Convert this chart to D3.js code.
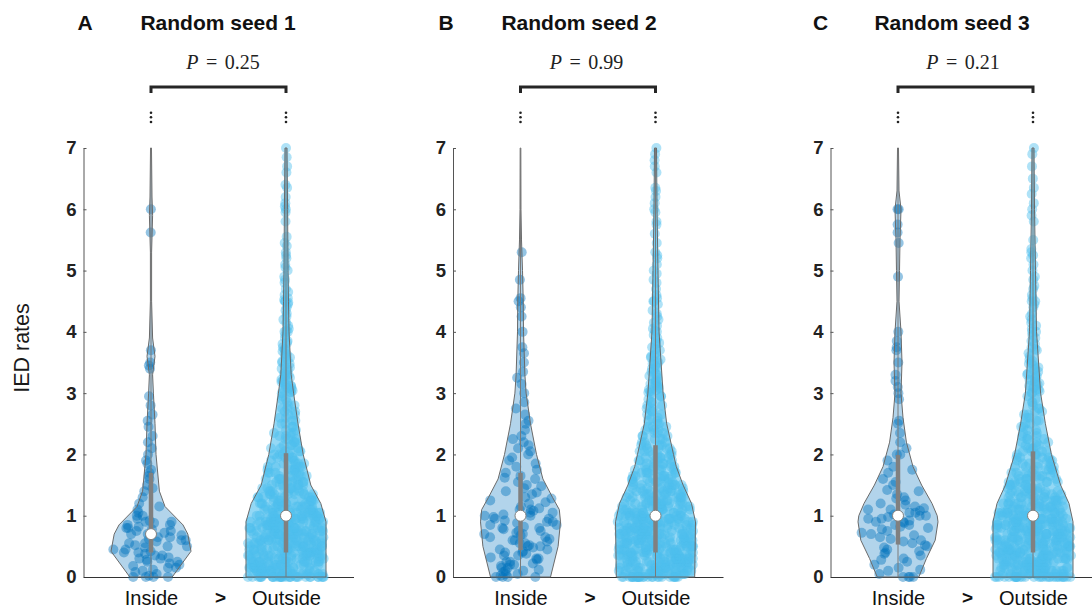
<!DOCTYPE html>
<html><head><meta charset="utf-8">
<script src="https://cdn.jsdelivr.net/npm/d3@7"></script>
<style>body{margin:0;background:#fff}svg{display:block}</style>
</head><body>
<svg id="chart" width="1092" height="611"></svg>
<script>
// ---------------- data ----------------
const panelLetters = ["A", "B", "C"];
const panelTitles = ["Random seed 1", "Random seed 2", "Random seed 3"];
const pValues = ["0.25", "0.99", "0.21"];
const groups = ["Inside", "Outside"];
const yTicks = [0, 1, 2, 3, 4, 5, 6, 7];
const yLabel = "IED rates";

// box stats [q1, median, q3]
const boxInsideA = [0.40, 0.70, 1.70];
const boxOutsideA = [0.40, 1.00, 2.02];
const boxInsideB = [0.44, 1.00, 1.70];
const boxOutsideB = [0.40, 1.00, 2.15];
const boxInsideC = [0.53, 1.00, 1.99];
const boxOutsideC = [0.40, 1.00, 2.05];

// violin outlines: value grid and relative density (1 = widest)
const violinGridInsideA = [0, 0.42, 0.7, 0.85, 1.15, 1.4, 2.0, 2.5, 3.0, 3.3, 3.6, 3.9, 4.5, 5.3, 5.9, 6.2, 7];
const violinDensInsideA = [0.53, 1.0, 0.92, 0.8, 0.35, 0.21, 0.125, 0.1, 0.06, 0.04, 0.1, 0.04, 0.015, 0.015, 0.04, 0.025, 0.012];
const violinGridOutsideA = [0, 0.9, 1.2, 1.5, 2.0, 2.5, 3.0, 3.3, 4.0, 4.5, 5.0, 6.0, 7];
const violinDensOutsideA = [1.0, 1.0, 0.87, 0.62, 0.43, 0.3, 0.19, 0.13, 0.075, 0.062, 0.05, 0.04, 0.025];
const violinGridInsideB = [0, 0.5, 0.9, 1.1, 1.3, 1.6, 2.0, 2.5, 3.0, 3.3, 4.0, 4.5, 5.0, 5.5, 6.0, 7];
const violinDensInsideB = [0.75, 0.94, 1.0, 0.97, 0.8, 0.56, 0.4, 0.25, 0.14, 0.11, 0.075, 0.068, 0.05, 0.025, 0.012, 0.008];
const violinGridOutsideB = [0, 0.9, 1.2, 1.5, 1.8, 2.0, 2.5, 3.0, 4.0, 5.0, 6.0, 7];
const violinDensOutsideB = [0.98, 1.0, 0.9, 0.69, 0.52, 0.45, 0.28, 0.19, 0.088, 0.062, 0.038, 0.025];
const violinGridInsideC = [0, 0.3, 0.6, 0.9, 1.0, 1.2, 1.5, 1.8, 2.2, 2.6, 3.0, 3.5, 4.0, 4.5, 5.0, 5.5, 6.0, 6.3, 7];
const violinDensInsideC = [0.52, 0.71, 0.93, 1.0, 0.98, 0.85, 0.59, 0.375, 0.21, 0.125, 0.075, 0.1, 0.075, 0.025, 0.038, 0.05, 0.075, 0.025, 0.012];
const violinGridOutsideC = [0, 0.9, 1.2, 1.5, 2.0, 2.5, 3.0, 4.0, 5.0, 6.0, 7];
const violinDensOutsideC = [1.0, 1.0, 0.9, 0.69, 0.46, 0.31, 0.19, 0.088, 0.062, 0.038, 0.025];

// individual rates (inside groups)
const insideA = [0,0,0,0,0.02,0.05,0.08,0.1,0.12,0.15,0.15,0.18,0.2,0.22,0.25,0.25,0.28,0.3,0.3,0.32,0.35,0.35,0.38,0.4,0.4,0.42,0.45,0.45,0.48,0.5,0.5,0.52,0.55,0.55,0.58,0.6,0.6,0.62,0.65,0.65,0.68,0.7,0.7,0.72,0.75,0.75,0.78,0.8,0.8,0.82,0.85,0.85,0.88,0.9,0.9,0.92,0.95,1.0,1.0,1.05,1.1,1.15,1.2,1.3,1.4,1.45,1.5,1.6,1.65,1.7,1.75,1.85,1.9,2.0,2.1,2.2,2.3,2.45,2.55,2.65,2.8,2.95,3.4,3.45,3.5,3.7,5.62,6.0];
const insideB = [0,0,0,0,0.02,0.05,0.05,0.08,0.1,0.1,0.12,0.15,0.15,0.18,0.2,0.2,0.22,0.25,0.25,0.28,0.3,0.3,0.32,0.35,0.35,0.38,0.4,0.4,0.42,0.45,0.45,0.48,0.5,0.5,0.52,0.55,0.55,0.58,0.6,0.6,0.62,0.65,0.65,0.68,0.7,0.7,0.72,0.75,0.75,0.78,0.8,0.8,0.82,0.85,0.85,0.88,0.9,0.9,0.92,0.95,0.95,0.98,1.0,1.0,1.02,1.05,1.05,1.08,1.1,1.1,1.12,1.15,1.2,1.22,1.25,1.28,1.3,1.35,1.38,1.4,1.45,1.48,1.5,1.55,1.6,1.62,1.65,1.7,1.75,1.8,1.85,1.9,1.95,2.0,2.05,2.1,2.15,2.2,2.25,2.3,2.4,2.5,2.55,2.65,2.75,2.85,3.0,3.15,3.25,3.35,3.5,3.65,3.75,4.0,4.25,4.4,4.5,4.55,4.85,5.3];
const insideC = [0,0,0,0,0.05,0.1,0.12,0.15,0.2,0.25,0.28,0.3,0.35,0.38,0.4,0.42,0.45,0.48,0.5,0.52,0.55,0.58,0.6,0.62,0.65,0.68,0.7,0.72,0.75,0.78,0.8,0.82,0.85,0.85,0.88,0.9,0.9,0.92,0.95,0.95,0.98,1.0,1.0,1.02,1.05,1.05,1.08,1.1,1.1,1.12,1.15,1.18,1.2,1.25,1.28,1.3,1.35,1.4,1.42,1.5,1.55,1.6,1.7,1.75,1.8,1.9,2.0,2.0,2.1,2.2,2.35,2.5,2.55,2.9,3.0,3.1,3.2,3.3,3.5,3.7,3.75,3.85,4.0,4.9,5.45,5.62,5.75,6.0,6.0];

// outside groups: dense part read as counts per rate value, tail listed individually
const outsideBinValues = [0,0.05,0.1,0.15,0.2,0.25,0.3,0.35,0.4,0.45,0.5,0.55,0.6,0.65,0.7,0.75,0.8,0.85,0.9,0.95,1.0,1.05,1.1,1.15,1.2,1.25,1.3,1.35,1.4,1.45,1.5,1.55,1.6,1.65,1.7,1.75,1.8,1.85,1.9,1.95,2.0,2.05,2.1,2.15,2.2,2.25,2.3,2.35,2.4,2.45,2.5,2.55,2.6,2.65,2.7,2.75,2.8,2.85,2.9,2.95];
const outsideCountsA = [30,15,15,15,15,15,15,15,15,15,15,15,15,15,15,15,15,15,15,15,12,11,10,10,9,9,8,8,7,7,6,6,6,5,5,5,5,4,4,4,4,4,3,3,3,3,3,3,2,2,2,2,2,2,2,2,2,1,2,1];
const outsideCountsB = [28,15,14,15,15,14,15,15,14,15,15,14,15,15,14,15,15,14,15,15,13,12,12,11,11,10,9,9,8,8,7,7,7,6,6,6,5,5,5,5,4,4,4,4,3,3,3,3,3,3,2,2,2,2,2,2,2,2,1,2];
const outsideCountsC = [30,14,15,15,14,15,15,14,15,15,14,15,15,14,15,15,14,15,15,15,12,11,11,10,9,9,8,8,7,7,6,6,6,6,5,5,5,4,4,4,4,4,3,3,3,3,3,2,2,2,2,2,2,2,2,2,1,2,1,1];
const outsideTailA = [3.0,3.01,3.02,3.04,3.05,3.07,3.08,3.1,3.11,3.12,3.14,3.15,3.18,3.2,3.22,3.24,3.25,3.28,3.3,3.3,3.32,3.35,3.38,3.4,3.42,3.45,3.48,3.5,3.52,3.55,3.58,3.6,3.63,3.65,3.68,3.7,3.72,3.75,3.8,3.82,3.85,3.9,3.95,4.0,4.0,4.02,4.05,4.1,4.15,4.2,4.25,4.3,4.35,4.4,4.45,4.48,4.5,4.5,4.52,4.55,4.6,4.65,4.7,4.8,4.85,4.9,5.0,5.05,5.1,5.2,5.25,5.3,5.4,5.45,5.55,5.8,5.95,6.0,6.05,6.1,6.2,6.35,6.4,6.6,6.7,6.85,7.0];
const outsideTailB = [3.0,3.01,3.03,3.05,3.06,3.08,3.1,3.12,3.13,3.15,3.16,3.18,3.2,3.22,3.25,3.28,3.3,3.32,3.35,3.38,3.4,3.42,3.45,3.48,3.5,3.52,3.55,3.58,3.6,3.62,3.65,3.7,3.72,3.75,3.8,3.82,3.85,3.9,3.95,4.0,4.02,4.05,4.1,4.15,4.2,4.25,4.3,4.35,4.45,4.5,4.5,4.55,4.6,4.7,4.8,4.85,4.95,5.0,5.1,5.2,5.25,5.3,5.45,5.6,5.75,5.8,5.95,6.0,6.1,6.2,6.3,6.35,6.6,6.7,6.8,6.9,7.0];
const outsideTailC = [3.0,3.01,3.03,3.05,3.06,3.08,3.1,3.12,3.14,3.16,3.18,3.2,3.22,3.24,3.26,3.28,3.3,3.32,3.35,3.38,3.4,3.42,3.45,3.48,3.5,3.52,3.55,3.6,3.65,3.7,3.72,3.75,3.8,3.85,3.9,3.95,4.0,4.0,4.05,4.1,4.15,4.2,4.25,4.3,4.4,4.45,4.5,4.5,4.55,4.6,4.7,4.75,4.85,4.9,5.0,5.1,5.2,5.25,5.3,5.35,5.5,5.8,5.9,6.0,6.1,6.25,6.35,6.5,6.7,6.9,7.0];

// ---------------- assemble ----------------
const expand = (vals, counts) => vals.flatMap((v, i) => Array(counts[i]).fill(v));
const panels = [
  { inside: insideA, outside: expand(outsideBinValues, outsideCountsA).concat(outsideTailA),
    vIn: [violinGridInsideA, violinDensInsideA], vOut: [violinGridOutsideA, violinDensOutsideA],
    bIn: boxInsideA, bOut: boxOutsideA },
  { inside: insideB, outside: expand(outsideBinValues, outsideCountsB).concat(outsideTailB),
    vIn: [violinGridInsideB, violinDensInsideB], vOut: [violinGridOutsideB, violinDensOutsideB],
    bIn: boxInsideB, bOut: boxOutsideB },
  { inside: insideC, outside: expand(outsideBinValues, outsideCountsC).concat(outsideTailC),
    vIn: [violinGridInsideC, violinDensInsideC], vOut: [violinGridOutsideC, violinDensOutsideC],
    bIn: boxInsideC, bOut: boxOutsideC }
];

// ---------------- layout ----------------
const panelLeft = [83.5, 453, 830.5];
const panelW = 270;
const titleDx = [134.5, 126, 121.5];
const letterDx = [1.5, -7, -10];
const pDx = [139.5, 133.5, 132.5];
const colors = { Inside: "#0072BD", Outside: "#4DBEEE" };
const sans = "'Liberation Sans', Arial, Helvetica, sans-serif";

const svg = d3.select("#chart");
svg.append("rect").attr("width", 1092).attr("height", 611).attr("fill", "#fff");

const y = d3.scaleLinear().domain([0, 7]).range([577, 148]);
const wScale = d3.scaleLinear().domain([0, 1]).range([0, 40]);

function jit(i) { const s = Math.sin((i + 1) * 12.9898) * 43758.5453; return s - Math.floor(s); }

svg.append("text")
  .attr("transform", "translate(28.5,348) rotate(-90)")
  .attr("text-anchor", "middle")
  .attr("font-family", sans).attr("font-size", 21.5).attr("fill", "#1a1a1a")
  .text(yLabel);

panels.forEach((p, pi) => {
  const left = panelLeft[pi];
  const g = svg.append("g").attr("transform", `translate(${left},0)`);
  const x = d3.scalePoint().domain(groups).range([0, panelW]).padding(0.5);

  // header
  g.append("text").attr("x", letterDx[pi]).attr("y", 29.5).attr("text-anchor", "middle")
    .attr("font-family", sans).attr("font-weight", "bold").attr("font-size", 21).attr("fill", "#111")
    .text(panelLetters[pi]);
  g.append("text").attr("x", titleDx[pi]).attr("y", 29.5).attr("text-anchor", "middle")
    .attr("font-family", sans).attr("font-weight", "bold").attr("font-size", 21).attr("fill", "#111")
    .text(panelTitles[pi]);
  const pt = g.append("text").attr("x", pDx[pi]).attr("y", 68.5).attr("text-anchor", "middle")
    .attr("font-family", "'Liberation Serif', 'Times New Roman', serif").attr("font-size", 20)
    .attr("fill", "#222").attr("word-spacing", 2.5);
  pt.append("tspan").attr("font-style", "italic").text("P");
  pt.append("tspan").text(" = " + pValues[pi]);

  // bracket
  const x1 = x("Inside"), x2 = x("Outside");
  g.append("path").attr("d", `M${x1},93V87H${x2}V93`).attr("fill", "none")
    .attr("stroke", "#262626").attr("stroke-width", 3);
  // vertical ellipsis markers
  [x1, x2].forEach(cx => {
    [112.7, 117.3, 122].forEach(cy => g.append("circle").attr("cx", cx).attr("cy", cy).attr("r", 1.3).attr("fill", "#222"));
  });

  // y axis
  const ya = g.append("g").call(d3.axisLeft(y).tickValues(yTicks).tickSizeInner(-3).tickSizeOuter(0).tickPadding(7).tickFormat(d3.format("d")));
  ya.select(".domain").attr("stroke", "#555");
  ya.selectAll(".tick line").attr("stroke", "#555");
  ya.selectAll(".tick text").attr("font-family", sans).attr("font-weight", "bold").attr("font-size", 18.5).attr("fill", "#222");

  // x axis
  const xa = g.append("g").attr("transform", "translate(0,577)")
    .call(d3.axisBottom(x).tickSize(0).tickPadding(14));
  xa.select(".domain").attr("stroke", "#333");
  xa.selectAll(".tick text").attr("font-family", sans).attr("font-size", 20).attr("fill", "#111");
  g.append("text").attr("x", panelW / 2 + 2).attr("y", 603.5).attr("text-anchor", "middle")
    .attr("font-family", sans).attr("font-weight", "bold").attr("font-size", 19).attr("fill", "#111").text(">");

  const layers = g.append("g");
  [["Inside", p.inside, p.vIn, p.bIn], ["Outside", p.outside, p.vOut, p.bOut]].forEach(([grp, vals, viol, box]) => {
    const cx = x(grp);
    const col = colors[grp];
    const prof = viol[0].map((v, i) => [v, viol[1][i]]);
    const densAt = d3.scaleLinear().domain(viol[0]).range(viol[1]).clamp(true);
    const area = d3.area()
      .x0(d => cx - wScale(d[1])).x1(d => cx + wScale(d[1]))
      .y(d => y(d[0])).curve(d3.curveLinear);
    layers.append("path").attr("d", area(prof)).attr("fill", col)
      .attr("fill-opacity", grp === "Inside" ? 0.3 : 0.6).attr("stroke", "none");
    // data points
    layers.append("g").selectAll("circle").data(vals).join("circle")
      .attr("cx", (v, i) => cx + (2 * jit(i + pi * 1000) - 1) * wScale(densAt(v)) * 0.95)
      .attr("cy", v => y(v))
      .attr("r", 5)
      .attr("fill", col)
      .attr("fill-opacity", grp === "Inside" ? 0.42 : 0.45);
    // outline
    layers.append("path").attr("d", area(prof)).attr("fill", "none").attr("stroke", "#6a6a6a").attr("stroke-width", 1);
    // whisker
    layers.append("line").attr("x1", cx).attr("x2", cx).attr("y1", y(0)).attr("y2", y(7))
      .attr("stroke", "#7a7a7a").attr("stroke-width", 1);
    // box
    layers.append("line").attr("x1", cx).attr("x2", cx).attr("y1", y(box[0])).attr("y2", y(box[2]))
      .attr("stroke", "#808080").attr("stroke-width", 4.5);
    layers.append("circle").attr("cx", cx).attr("cy", y(box[1])).attr("r", 5.5)
      .attr("fill", "#fff").attr("stroke", "#808080").attr("stroke-width", 1);
  });
});
</script>
</body></html>
